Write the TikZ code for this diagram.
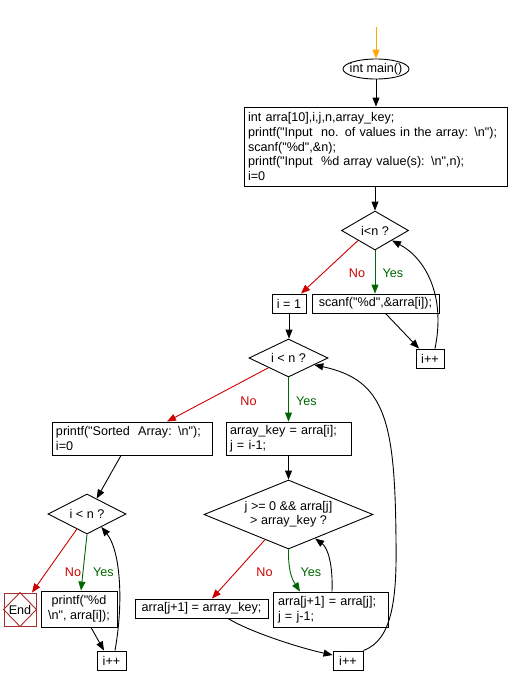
\documentclass[tikz,border=0pt]{standalone}
\usepackage{fontspec}
\newfontfamily\codefont{Liberation Sans}
\newcommand\mycodestyle{\codefont\fontsize{12.6}{14.6}\selectfont}
\usetikzlibrary{shapes.geometric,arrows.meta}
\definecolor{nored}{RGB}{204,0,0}
\definecolor{yesgreen}{RGB}{0,102,0}
\definecolor{startorange}{RGB}{255,165,0}
\definecolor{endred}{RGB}{165,45,45}
\begin{document}
\begin{tikzpicture}[x=1pt,y=-1pt,
  every node/.style={font=\mycodestyle},
  stepbox/.style={draw, rectangle, inner sep=0pt, line width=0.9pt},
  leftbox/.style={stepbox, align=left, inner xsep=4pt},
  decision/.style={draw, diamond, inner sep=0pt, line width=0.9pt},
  conn/.style={draw, line width=0.9pt, -{Triangle[length=9pt,width=7pt]}},
  noconn/.style={conn, nored},
  yesconn/.style={conn, yesgreen},
  nolbl/.style={text=nored, inner sep=0pt},
  yeslbl/.style={text=yesgreen, inner sep=0pt},
]
\useasboundingbox (0,0) rectangle (508,686);

\coordinate (start) at (376,27);
\node[draw, ellipse, minimum width=66pt, minimum height=20pt, inner sep=0pt, line width=0.9pt] (main) at (376,69) {\makebox[0pt]{int main()}};
\node[leftbox, text width=255pt, minimum height=79pt] (b1) at (375.5,146.5) {int arra[10],i,j,n,array\_key;\\ printf("Input~ no. of values in the array: \textbackslash n");\\ scanf("\%d",\&n);\\ printf("Input~ \%d array value(s): \textbackslash n",n);\\ i=0};
\node[decision, minimum width=67pt, minimum height=39pt] (d1) at (375,230.5) {\makebox[0pt]{i<n ?}};
\node[stepbox, minimum width=34pt, minimum height=19pt] (i1) at (289,303.5) {i = 1};
\node[stepbox, minimum width=127pt, minimum height=19pt] (scan) at (375.5,303.5) {scanf("\%d",\&arra[i]);};
\node[stepbox, minimum width=28pt, minimum height=19pt] (ip1) at (430,358.5) {i++};
\node[decision, minimum width=79pt, minimum height=38pt] (d2) at (288.5,358) {\makebox[0pt]{i < n ?}};
\node[leftbox, text width=152pt, minimum height=33pt] (ps) at (132,438.5) {printf("Sorted~ Array: \textbackslash n");\\ i=0};
\node[leftbox, text width=117pt, minimum height=33pt] (ak) at (288.5,438.5) {array\_key = arra[i];\\ j = i-1;};
\node[decision, minimum width=169pt, minimum height=69pt] (d3) at (288.5,514.5) {\makebox[0pt]{\begin{tabular}{@{}c@{}}j >= 0 \&\& arra[j]\\ > array\_key ?\end{tabular}}};
\node[stepbox, minimum width=133pt, minimum height=19pt] (kb) at (201.5,608.5) {arra[j+1] = array\_key;};
\node[leftbox, text width=105pt, minimum height=35pt, inner xsep=5pt] (sw) at (330.5,609.5) {arra[j+1] = arra[j];\\ j = j-1;};
\node[stepbox, minimum width=30pt, minimum height=19pt] (ip3) at (348,660.5) {i++};
\node[decision, minimum width=78pt, minimum height=40pt] (d4) at (87,514) {\makebox[0pt]{i < n ?}};
\node[draw=endred, rectangle, minimum width=32pt, minimum height=33pt, inner sep=0pt, line width=0.9pt] (end) at (20,609.5) {End};
\draw[endred, line width=0.9pt] (end.north) -- (end.east) -- (end.south) -- (end.west) -- cycle;
\node[stepbox, minimum width=76pt, minimum height=36pt, align=center] (pd) at (79,609) {printf("\%d\\ \textbackslash n", arra[i]);};
\node[stepbox, minimum width=29pt, minimum height=19pt] (ip2) at (111.5,660.5) {i++};

\node[nolbl] (no1) at (357,273) {No};
\node[yeslbl] (yes1) at (393,273) {Yes};
\node[nolbl] (no2) at (248.5,401) {No};
\node[yeslbl] (yes2) at (306.5,401) {Yes};
\node[nolbl] (no3) at (264.5,572) {No};
\node[yeslbl] (yes3) at (311,572) {Yes};
\node[nolbl] (no4) at (73,572) {No};
\node[yeslbl] (yes4) at (103.5,572) {Yes};

\draw[conn, startorange] (start) -- (main.north);
\draw[conn] (main.south) -- (main.south |- b1.north);
\draw[conn] (b1.south -| d1.north) -- (d1.north);
\draw[noconn] (d1.south west) -- ([xshift=12pt]i1.north);
\draw[yesconn] (d1.south) -- (d1.south |- scan.north);
\draw[conn] ([xshift=10pt]scan.south) -- ([xshift=-11pt]ip1.north);
\draw[conn] ([xshift=5pt]ip1.north) .. controls (446,295) and (425,258) .. (d1.south east);
\draw[conn] (i1.south) -- (i1.south |- d2.north);
\draw[noconn] (d2.south west) -- ([xshift=35pt]ps.north);
\draw[yesconn] (d2.south) -- (d2.south |- ak.north);
\draw[conn] (ak.south) -- (d3.north);
\draw[noconn] (d3.227) -- ([xshift=10.5pt]kb.north);
\draw[yesconn] (d3.south) .. controls (288,575) and (294,582) .. ([xshift=-30.5pt]sw.north);
\draw[conn] ([xshift=1.5pt]sw.north) .. controls (333,565) and (328,548) .. (d3.-42);
\draw[conn] ([xshift=26.5pt]kb.south) .. controls (250,632) and (300,648) .. ([yshift=5.5pt]ip3.west);
\draw[conn] (ip3.north east) .. controls (392,640) and (397,600) .. (396,540) .. controls (395,420) and (385,380) .. (d2.-15);
\draw[conn] ([xshift=-11pt]ps.south) -- (d4.58);
\draw[noconn] (d4.236) -- ([xshift=12pt]end.north);
\draw[yesconn] (d4.south) -- ([xshift=2pt]pd.north);
\draw[conn] ([xshift=12pt]pd.south) -- ([xshift=-7.5pt]ip2.north);
\draw[conn] ([xshift=3.5pt]ip2.north) .. controls (124,600) and (120,550) .. (d4.-42);
\end{tikzpicture}
\end{document}
